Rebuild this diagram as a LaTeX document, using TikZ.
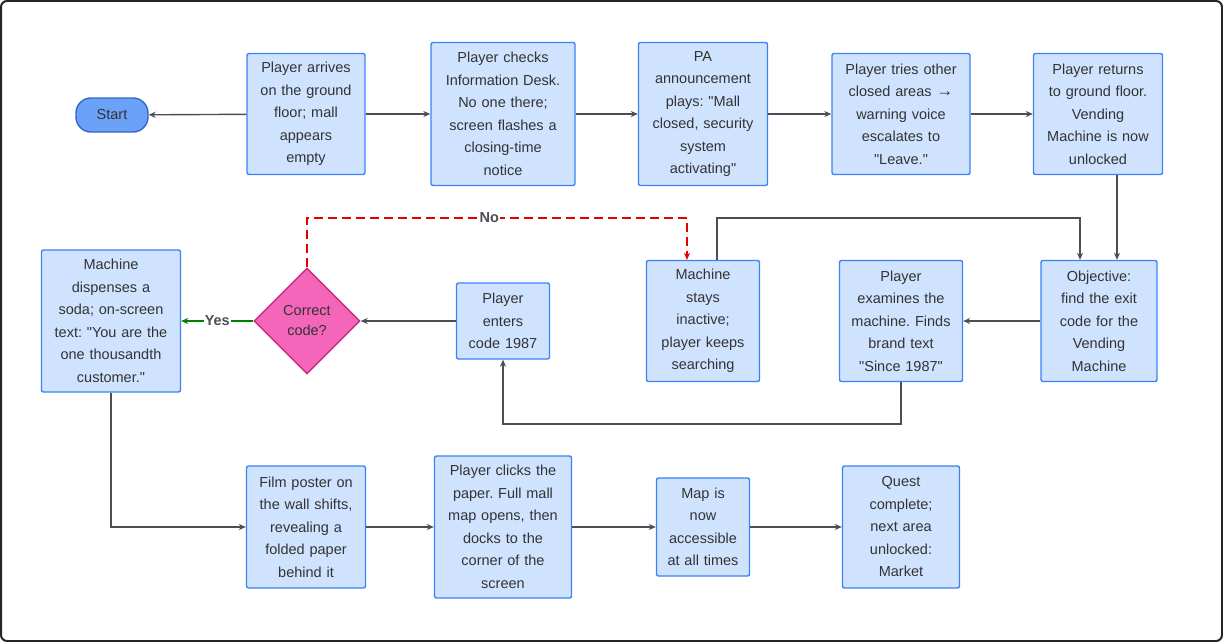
\documentclass[tikz,border=0pt]{standalone}
\usepackage{fontspec}
\setmainfont{Liberation Sans}[Ligatures=TeXOff]
\usetikzlibrary{shapes.geometric,arrows.meta}
\definecolor{bfill}{HTML}{CFE3FF}
\definecolor{bdraw}{HTML}{3B82F6}
\definecolor{tcol}{HTML}{333333}
\definecolor{lcol}{HTML}{4A4F57}
\newcommand\qq{"}
\frenchspacing
\begin{document}
\begin{tikzpicture}[x=1pt,y=-1pt,
  box/.style={draw=bdraw,fill=bfill,line width=1.4pt,rounded corners=2pt,align=center,text=tcol,font=\fontsize{14.5}{22.5}\selectfont,inner sep=2pt},
  conn/.style={draw=lcol,line width=1.4pt,-{Stealth[length=7pt,width=6pt]}},
  lab/.style={fill=white,text=lcol,font=\fontsize{14.5}{17}\selectfont\bfseries,inner sep=1pt}]
\useasboundingbox (0,0) rectangle (1223,642);
\draw[black!85,line width=2pt,rounded corners=6pt] (1,1) rectangle (1222,641);
\node[draw=bdraw!80!black,fill=bdraw!75,line width=1.4pt,rounded corners=15pt,minimum width=72pt,minimum height=34pt,text=tcol,font=\fontsize{14.5}{17}\selectfont] (start) at (112,115) {Start};
\node[box,text width=114pt,minimum height=121pt] (a1) at (306,114) {Player arrives\\on the ground\\floor; mall\\appears\\empty};
\node[box,text width=140pt,minimum height=143pt] (a2) at (503,114) {Player checks\\Information Desk.\\No one there;\\screen flashes a\\closing-time\\notice};
\node[box,text width=125pt,minimum height=143pt] (a3) at (703,114) {PA\\announcement\\plays: \qq Mall\\closed, security\\system\\activating\qq};
\node[box,text width=134pt,minimum height=121pt] (a4) at (901,114) {Player tries other\\closed areas {\fontsize{17}{17}\selectfont →}\\warning voice\\escalates to\\\qq Leave.\qq};
\node[box,text width=125pt,minimum height=121pt] (a5) at (1098,114) {Player returns\\to ground floor.\\Vending\\Machine is now\\unlocked};
\node[box,text width=112pt,minimum height=121pt] (obj) at (1099,321) {Objective:\\find the exit\\code for the\\Vending\\Machine};
\node[box,text width=119pt,minimum height=121pt] (exam) at (901,321) {Player\\examines the\\machine. Finds\\brand text\\\qq Since 1987\qq};
\node[box,text width=109pt,minimum height=121pt] (stay) at (703,321) {Machine\\stays\\inactive;\\player keeps\\searching};
\node[box,text width=89pt,minimum height=76pt] (enter) at (503,321) {Player\\enters\\code 1987};
\node[diamond,draw=magenta!80!black,fill=magenta!60,line width=1.4pt,minimum width=106pt,minimum height=106pt,inner sep=0pt,align=center,text=tcol,font=\fontsize{14.5}{20}\selectfont] (dec) at (307,321) {Correct\\code?};
\node[box,text width=135pt,minimum height=142pt] (mach) at (111,321) {Machine\\dispenses a\\soda; on-screen\\text: \qq You are the\\one thousandth\\customer.\qq};
\node[box,text width=115pt,minimum height=122pt] (b1) at (306,527) {Film poster on\\the wall shifts,\\revealing a\\folded paper\\behind it};
\node[box,text width=133pt,minimum height=142pt] (b2) at (503,527) {Player clicks the\\paper. Full mall\\map opens, then\\docks to the\\corner of the\\screen};
\node[box,text width=89pt,minimum height=98pt] (b3) at (703,527) {Map is\\now\\accessible\\at all times};
\node[box,text width=113pt,minimum height=122pt] (b4) at (901,527) {Quest\\complete;\\next area\\unlocked:\\Market};
\draw[conn] (a1) -- (start);
\draw[conn] (a1) -- (a2);
\draw[conn] (a2) -- (a3);
\draw[conn] (a3) -- (a4);
\draw[conn] (a4) -- (a5);
\draw[conn] (a5.south -| 1117,0) -- (obj.north -| 1117,0);
\draw[conn] (obj) -- (exam);
\draw[conn] (stay.north -| 717,0) -- (717,218) -- (1080,218) -- (obj.north -| 1080,0);
\draw[conn] (exam.south) -- (901,424) -- (503,424) -- (enter.south);
\draw[conn] (enter) -- (dec);
\draw[draw=green!50!black,line width=1.4pt,-{Stealth[length=7pt,width=6pt]}] (dec) -- node[lab]{Yes} (mach);
\draw[draw=red!90!black,line width=1.4pt,dash pattern=on 9pt off 5pt,-{Stealth[length=7pt,width=6pt]}] (dec.north) -- (307,218) -- node[lab,pos=0.48]{No} (687,218) -- (stay.north -| 687,0);
\draw[conn] (mach.south) -- (111,527) -- (b1);
\draw[conn] (b1) -- (b2);
\draw[conn] (b2) -- (b3);
\draw[conn] (b3) -- (b4);
\end{tikzpicture}
\end{document}
